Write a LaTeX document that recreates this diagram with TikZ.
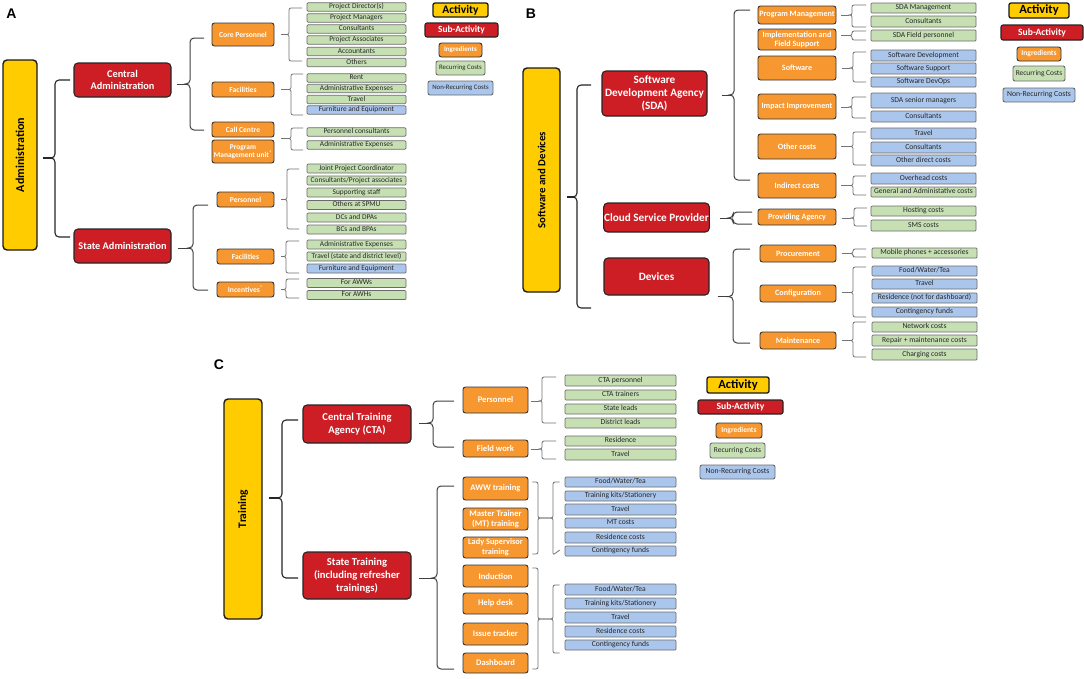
\documentclass[tikz,border=0pt]{standalone}
\usepackage{graphicx}
\usepackage{fontspec}
\setmainfont{Carlito}
\newfontfamily\labfont{Liberation Sans}
\usetikzlibrary{calc}
\definecolor{yel}{HTML}{FFCC00}
\definecolor{redc}{HTML}{CD1E25}
\definecolor{orc}{HTML}{F7972F}
\definecolor{grc}{HTML}{C6E0B4}
\definecolor{blc}{HTML}{ABC6EC}
\definecolor{bord}{HTML}{6A6A6A}
\definecolor{itxt}{HTML}{262626}
\newcommand\mybox[7]{%
  \pgfmathsetmacro\bxw{#5-#3}\pgfmathsetmacro\bxh{#6-#4}%
  \node[#1,minimum width=\bxw pt,minimum height=\bxh pt] (#2) at ({(#3+#5)/2},{(#4+#6)/2}) {#7};}
\newcommand\mybrace[6]{% style, tick start, x of brace, top y, bottom y, end x
  \coordinate (bS) at #2;
  \coordinate (bT) at (#3,#4);
  \coordinate (bB) at (#3,#5);
  \coordinate (bM) at (bS -| bT);
  \draw[#1] (#6,#4) -- (bT) -- (bM) -- ([xshift=-3.5pt]bM);
  \draw[#1] (#6,#5) -- (bB) -- (bM) -- ([xshift=-3.5pt]bM);
  \draw[#1,sharp corners] (bS) -- ([xshift=-3pt]bM);}
\tikzset{
  base/.style={inner sep=0.5pt, align=center},
  act/.style={base, fill=yel, draw=black!90, line width=1.4pt, rounded corners=4pt, font=\bfseries\fontsize{10.8}{12}\selectfont},
  sub/.style={base, fill=redc, draw=black!85, line width=1.1pt, rounded corners=4pt, text=white, font=\bfseries\fontsize{10.3}{12.2}\selectfont},
  subB/.style={sub, font=\bfseries\fontsize{11.2}{13.2}\selectfont},
  subC/.style={sub, font=\bfseries\fontsize{10.6}{13}\selectfont},
  ing/.style={base, fill=orc, draw=black!80, line width=0.9pt, rounded corners=2.5pt, text=white, font=\bfseries\fontsize{7.6}{8.2}\selectfont},
  ingB/.style={ing, font=\bfseries\fontsize{8.1}{9.2}\selectfont},
  ingC/.style={ing, font=\bfseries\fontsize{8.6}{10}\selectfont},
  rec/.style={base, inner sep=0.3pt, text height=5.3pt, text depth=1.6pt, fill=grc, draw=bord, line width=0.7pt, rounded corners=1pt, text=itxt, font=\fontsize{7.4}{7.6}\selectfont},
  non/.style={rec, fill=blc},
  recB/.style={rec, text height=5.6pt, text depth=1.7pt, font=\fontsize{7.6}{8}\selectfont},
  nonB/.style={recB, fill=blc},
  brM/.style={draw=black!85, line width=1.1pt, rounded corners=4pt},
  brS/.style={draw=black!75, line width=1pt, rounded corners=4pt},
  brI/.style={draw=black!55, line width=0.8pt, rounded corners=2pt},
  lab/.style={font=\labfont\bfseries\fontsize{14}{14}\selectfont, inner sep=0pt},
  lgact/.style={act, line width=1.3pt, rounded corners=2pt, font=\bfseries\fontsize{12.5}{13}\selectfont},
  lgsub/.style={sub, rounded corners=2pt, font=\bfseries\fontsize{9.6}{11}\selectfont},
  lging/.style={ing, font=\bfseries\fontsize{7.5}{8}\selectfont},
  lgrec/.style={rec, text height=, text depth=, line width=0.9pt, rounded corners=2pt, font=\fontsize{7.4}{8}\selectfont},
  lgnon/.style={lgrec, fill=blc, font=\fontsize{7.7}{8}\selectfont},
}
\begin{document}
\begin{tikzpicture}[x=1pt,y=-1pt]
\useasboundingbox[fill=white] (0,0) rectangle (1084,678);

% ---------------- Panel A ----------------
\node[lab] (LA) at (11.5,14) {A};
\mybox{act,font=\bfseries\fontsize{12}{13}\selectfont}{actA}{3}{60}{37}{250}{\rotatebox{90}{Administration}}
\mybox{sub}{ca}{74}{63}{171}{97}{Central\\Administration}
\mybox{sub}{sa}{74}{229}{171}{263}{State Administration}
\mybox{ing}{cp}{212}{23}{274}{46}{Core Personnel}
\mybox{ing}{fa}{212}{82}{274}{97}{Facilities}
\mybox{ing}{cc}{212}{122}{274}{137}{Call Centre}
\mybox{ing,font=\bfseries\fontsize{7.4}{8.2}\selectfont}{pmu}{212}{140}{274}{163}{Program\\Management unit\textsuperscript{*}}
\mybox{ing}{sp}{217}{192}{274}{207}{Personnel}
\mybox{ing}{sf}{217}{249}{274}{264}{Facilities}
\mybox{ing}{si}{217}{282}{274}{297}{Incentives\textsuperscript{*}}

\mybox{rec}{a1}{307}{2.8}{406}{11.2}{Project Director(s)}
\mybox{rec}{a2}{307}{13.8}{406}{22.2}{Project Managers}
\mybox{rec}{a3}{307}{24.8}{406}{33.2}{Consultants}
\mybox{rec}{a4}{307}{35.8}{406}{44.2}{Project Associates}
\mybox{rec}{a5}{307}{47.3}{406}{55.7}{Accountants}
\mybox{rec}{a6}{307}{58.3}{406}{66.7}{Others}
\mybox{rec}{f1}{307}{73.8}{406}{82.2}{Rent}
\mybox{rec}{f2}{307}{84.3}{406}{92.7}{Administrative Expenses}
\mybox{rec}{f3}{307}{95.3}{406}{103.7}{Travel}
\mybox{non}{f4}{307}{105.8}{406}{114.2}{Furniture and Equipment}
\mybox{rec}{c1}{307}{127.8}{406}{136.2}{Personnel consultants}
\mybox{rec}{c2}{307}{140.8}{406}{149.2}{Administrative Expenses}
\mybox{rec}{p1}{307}{164}{406}{173}{Joint Project Coordinator}
\mybox{rec}{p2}{307}{176}{406}{185}{Consultants/Project associates}
\mybox{rec}{p3}{307}{188}{406}{197}{Supporting staff}
\mybox{rec}{p4}{307}{200.5}{406}{209.5}{Others at SPMU}
\mybox{rec}{p5}{307}{213}{406}{222}{DCs and DPAs}
\mybox{rec}{p6}{307}{225}{406}{234}{BCs and BPAs}
\mybox{rec}{s1}{307}{240}{406}{249}{Administrative Expenses}
\mybox{rec}{s2}{307}{252}{406}{261}{Travel (state and district level)}
\mybox{non}{s3}{307}{264}{406}{273}{Furniture and Equipment}
\mybox{rec}{i1}{307}{278.5}{406}{287.5}{For AWWs}
\mybox{rec}{i2}{307}{290.5}{406}{299.5}{For AWHs}

\mybrace{brM}{($(actA.east)+(5,3)$)}{55}{80}{237}{70}
\mybrace{brS}{($(ca.east)+(5,4)$)}{190}{38}{130}{204}
\mybrace{brS}{($(sa.east)+(6,2)$)}{193}{205}{290}{208}
\mybrace{brI}{($(cp.east)+(7,0)$)}{289}{8}{61}{302}
\mybrace{brI}{($(fa.east)+(7,0)$)}{291}{74}{115}{303}
\coordinate (ccm) at ($(cc.east)!0.5!(pmu.east)$);
\mybrace{brI}{($(ccm)+(7,-2)$)}{291}{128}{150}{303}
\mybrace{brI}{($(sp.east)+(7,0)$)}{287}{169}{229}{299}
\mybrace{brI}{($(sf.east)+(7,0)$)}{286}{241}{273}{299}
\mybrace{brI}{($(si.east)+(7,0)$)}{286}{279}{298}{299}

\mybox{lgact,font=\bfseries\fontsize{11.5}{12}\selectfont}{lA1}{433}{3}{488}{17}{Activity}
\mybox{lgsub,font=\bfseries\fontsize{9.4}{10}\selectfont}{lA2}{425}{23}{498}{37}{Sub-Activity}
\mybox{lging,font=\bfseries\fontsize{7}{7.5}\selectfont}{lA3}{439}{43}{482}{57}{Ingredients}
\mybox{lgrec,font=\fontsize{6.8}{7}\selectfont}{lA4}{436}{61}{485}{75}{Recurring Costs}
\mybox{lgnon,font=\fontsize{6.8}{7}\selectfont}{lA5}{428}{81}{493}{95}{Non-Recurring Costs}

% ---------------- Panel B ----------------
\node[lab] (LB) at (531,14) {B};
\mybox{act}{actB}{523}{68}{560}{292}{\rotatebox{90}{Software and Devices}}
\mybox{subB}{sda}{602}{71}{707}{116}{Software\\Development Agency\\(SDA)}
\mybox{subB}{csp}{604}{203}{709}{232}{Cloud Service Provider}
\mybox{subB}{dev}{604}{258}{709}{295}{Devices}

\mybox{ingB}{pm}{758}{6}{836}{24}{Program Management}
\mybox{ingB}{impl}{758}{29}{836}{50}{Implementation and\\Field Support}
\mybox{ingB}{sw}{758}{56}{836}{80}{Software}
\mybox{ingB}{imp}{758}{94}{836}{119}{Impact Improvement}
\mybox{ingB}{oth}{758}{134}{836}{159}{Other costs}
\mybox{ingB}{ind}{758}{173}{836}{198}{Indirect costs}
\mybox{ingB}{prov}{758}{209}{836}{225}{Providing Agency}
\mybox{ingB}{proc}{760}{245}{836}{262}{Procurement}
\mybox{ingB}{conf}{760}{285}{836}{302}{Configuration}
\mybox{ingB}{mnt}{760}{332}{836}{349}{Maintenance}

\mybox{recB}{b1}{871}{3}{976}{13}{SDA Management}
\mybox{recB}{b2}{871}{16}{976}{27}{Consultants}
\mybox{recB}{b3}{871}{30}{976}{41}{SDA Field personnel}
\mybox{nonB}{b4}{871}{50}{976}{61}{Software Development}
\mybox{nonB}{b5}{871}{63}{976}{74}{Software Support}
\mybox{nonB}{b6}{871}{77}{976}{87}{Software DevOps}
\mybox{nonB}{b7}{871}{93}{976}{108}{SDA senior managers}
\mybox{nonB}{b8}{871}{111}{976}{122}{Consultants}
\mybox{nonB}{b9}{871}{128}{976}{139}{Travel}
\mybox{nonB}{b10}{871}{142}{976}{153}{Consultants}
\mybox{nonB}{b11}{871}{155}{976}{166}{Other direct costs}
\mybox{nonB}{b12}{871}{173}{976}{184}{Overhead costs}
\mybox{recB}{b13}{871}{187}{976}{197}{General and Administative costs}
\mybox{recB}{b14}{871}{206}{976}{216}{Hosting costs}
\mybox{recB}{b15}{871}{220}{976}{231}{SMS costs}
\mybox{recB}{b16}{872}{248}{977}{258}{Mobile phones + accessories}
\mybox{nonB}{b17}{872}{266}{977}{276}{Food/Water/Tea}
\mybox{nonB}{b18}{872}{279}{977}{289}{Travel}
\mybox{nonB}{b19}{872}{293}{977}{303}{Residence  (not for dashboard)}
\mybox{nonB}{b20}{872}{307}{977}{317}{Contingency funds}
\mybox{recB}{b21}{872}{322}{977}{332}{Network costs}
\mybox{recB}{b22}{872}{335}{977}{346}{Repair + maintenance costs}
\mybox{recB}{b23}{872}{349}{977}{360}{Charging costs}

\mybrace{brM}{($(actB.east)+(6,17)$)}{577}{85}{308}{591}
\mybrace{brS}{($(sda.east)+(14,1.5)$)}{734}{10}{180}{750}
\mybrace{brS}{($(csp.east)+(10,0.5)$)}{733}{212}{224}{752}
\mybrace{brS}{($(dev.east)+(8,20)$)}{733}{249}{343}{750}
\mybrace{brI}{($(pm.east)+(5,0)$)}{852}{5}{27}{866}
\mybrace{brI}{($(impl.east)+(5,-4)$)}{852}{31}{40}{866}
\mybrace{brI}{($(sw.east)+(6,0)$)}{853}{52}{82}{866}
\mybrace{brI}{($(imp.east)+(5,0.5)$)}{852}{97}{118}{866}
\mybrace{brI}{($(oth.east)+(5,0)$)}{853}{132}{165}{866}
\mybrace{brI}{($(ind.east)+(5,0)$)}{853}{176}{195}{866}
\mybrace{brI}{($(prov.east)+(6,1)$)}{854}{208}{226}{867}
\mybrace{brI}{($(proc.east)+(6,0)$)}{853}{249}{257}{866}
\mybrace{brI}{($(conf.east)+(6,-1)$)}{853}{267}{317}{866}
\mybrace{brI}{($(mnt.east)+(6,0)$)}{853}{322}{357}{866}

\mybox{lgact}{lB1}{1009}{3}{1069}{18}{Activity}
\mybox{lgsub}{lB2}{1001}{25}{1083}{40}{Sub-Activity}
\mybox{lging}{lB3}{1017}{47}{1061}{61}{Ingredients}
\mybox{lgrec}{lB4}{1013}{66}{1065}{81}{Recurring Costs}
\mybox{lgnon}{lB5}{1003}{88}{1075}{102}{Non-Recurring Costs}

% ---------------- Panel C ----------------
\node[lab] (LC) at (219,365) {C};
\mybox{act,font=\bfseries\fontsize{11.5}{12}\selectfont}{actC}{224}{399}{262}{619}{\rotatebox{90}{Training}}
\mybox{subC}{cta}{303}{405}{411}{443}{Central Training\\Agency (CTA)}
\mybox{subC}{st}{303}{552}{411}{599}{State Training\\(including refresher\\trainings)}

\mybox{ingC}{cper}{463}{387}{528}{413}{Personnel}
\mybox{ingC}{cfw}{463}{440}{528}{457}{Field work}
\mybox{ingC}{aww}{463}{477}{528}{500}{AWW training}
\mybox{ingC}{mt}{463}{508}{528}{530}{Master Trainer\\(MT) training}
\mybox{ingC,font=\bfseries\fontsize{8.3}{9.6}\selectfont}{ls}{463}{537}{528}{558}{Lady Supervisor\\training}
\mybox{ingC}{indc}{463}{565}{528}{587}{Induction}
\mybox{ingC}{hd}{463}{593}{528}{614}{Help desk}
\mybox{ingC}{itk}{463}{623}{528}{645}{Issue tracker}
\mybox{ingC}{db}{463}{653}{528}{673}{Dashboard}

\mybox{recB}{t1}{565}{375}{676}{386}{CTA personnel}
\mybox{recB}{t2}{565}{390}{676}{400}{CTA trainers}
\mybox{recB}{t3}{565}{404}{676}{414}{State leads}
\mybox{recB}{t4}{565}{418}{676}{428}{District leads}
\mybox{recB}{t5}{565}{436}{676}{446}{Residence}
\mybox{recB}{t6}{565}{449}{676}{460}{Travel}
\mybox{nonB}{u1}{565}{477}{676}{487}{Food/Water/Tea}
\mybox{nonB}{u2}{565}{491}{676}{501}{Training kits/Stationery}
\mybox{nonB}{u3}{565}{504}{676}{515}{Travel}
\mybox{nonB}{u4}{565}{518}{676}{528}{MT costs}
\mybox{nonB}{u5}{565}{532}{676}{543}{Residence costs}
\mybox{nonB}{u6}{565}{546}{676}{556}{Contingency funds}
\mybox{nonB}{v1}{565}{584}{676}{595}{Food/Water/Tea}
\mybox{nonB}{v2}{565}{598}{676}{609}{Training kits/Stationery}
\mybox{nonB}{v3}{565}{612}{676}{623}{Travel}
\mybox{nonB}{v4}{565}{626}{676}{637}{Residence costs}
\mybox{nonB}{v5}{565}{640}{676}{650}{Contingency funds}

\mybrace{brM}{($(actC.east)+(6,-11)$)}{282}{420}{578}{298}
\mybrace{brS}{($(cta.east)+(7,-1)$)}{433}{401}{447}{454}
\mybrace{brS}{($(st.east)+(7,2.5)$)}{437}{486}{669}{454}
\mybrace{brI}{($(cper.east)+(3,1)$)}{542}{377}{423}{556}
\mybrace{brI}{($(cfw.east)+(3,0.5)$)}{542}{441}{459}{556}

% double braces
\coordinate (g1m) at (545.5,518);
\draw[brI] ($(aww.east)+(4,-6.5)$) -- (538,482) -- (538,518) -- (g1m);
\draw[brI] ($(ls.east)+(4,6.5)$) -- (538,554) -- (538,518) -- (g1m);
\draw[brI] ($(u1.west)+(-5,0)$) -- (553,482) -- (553,518) -- (g1m);
\draw[brI] ($(u6.west)+(-5,-1)$) -- (553,555) -- (553,518) -- (g1m);
\coordinate (g2m) at (545.5,619);
\draw[brI] ($(indc.east)+(4,-8)$) -- (538,568) -- (538,619) -- (g2m);
\draw[brI] ($(db.east)+(4,6)$) -- (538,669) -- (538,619) -- (g2m);
\draw[brI] ($(v1.west)+(-5,-4.5)$) -- (553,585) -- (553,619) -- (g2m);
\draw[brI] ($(v5.west)+(-5,8)$) -- (553,653) -- (553,619) -- (g2m);

\mybox{lgact}{lC1}{707}{377}{769}{393}{Activity}
\mybox{lgsub}{lC2}{698}{400}{783}{414}{Sub-Activity}
\mybox{lging}{lC3}{716}{423}{762}{438}{Ingredients}
\mybox{lgrec,font=\fontsize{7.5}{8}\selectfont}{lC4}{710}{443}{765}{458}{Recurring Costs}
\mybox{lgnon}{lC5}{700}{465}{775}{479}{Non-Recurring Costs}
\end{tikzpicture}
\end{document}
